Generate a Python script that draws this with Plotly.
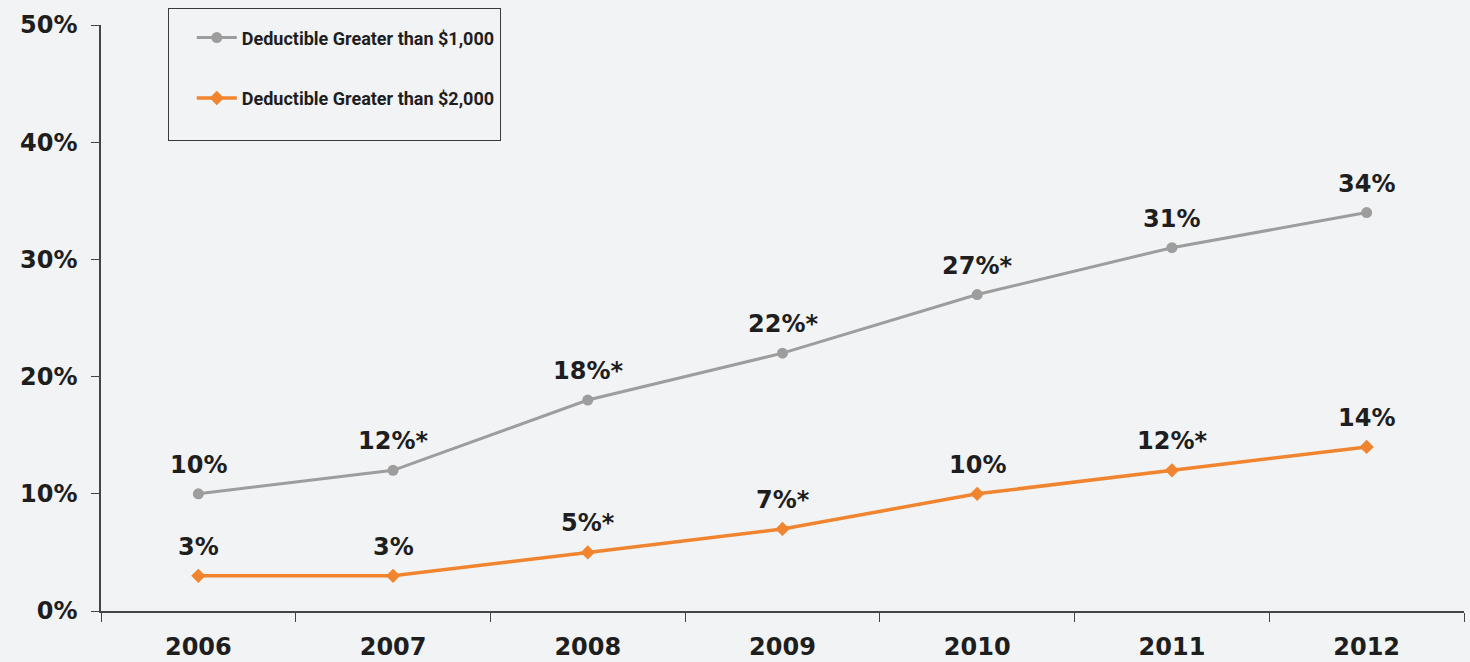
import plotly.graph_objects as go

years = ["2006", "2007", "2008", "2009", "2010", "2011", "2012"]
over_1000 = [10, 12, 18, 22, 27, 31, 34]
over_2000 = [3, 3, 5, 7, 10, 12, 14]
labels_1000 = ["10%", "12%*", "18%*", "22%*", "27%*", "31%", "34%"]
labels_2000 = ["3%", "3%", "5%*", "7%*", "10%", "12%*", "14%"]
y_ticks = [0, 10, 20, 30, 40, 50]

GRAY = "#9d9d9d"
ORANGE = "#f0842f"
BG = "#f2f3f5"
TXT = "#1e1e1e"
AXIS = "#444444"
FONT = "DejaVu Sans"

fig = go.Figure()
fig.add_trace(go.Scatter(
    x=years, y=over_1000, mode="lines+markers",
    name="<b>Deductible Greater than $1,000</b>", legendgroup="a",
    line=dict(color=GRAY, width=3),
    marker=dict(symbol="circle", size=11, color=GRAY),
))
fig.add_trace(go.Scatter(
    x=years, y=over_2000, mode="lines+markers",
    # trailing blank line gives the legend box some bottom padding
    name="<b>Deductible Greater than $2,000</b><br> ", legendgroup="b",
    line=dict(color=ORANGE, width=3.5),
    marker=dict(symbol="diamond", size=11, color=ORANGE),
))

# value labels above each point (x given as category index)
for series, labels in ((over_1000, labels_1000), (over_2000, labels_2000)):
    for i, (y, t) in enumerate(zip(series, labels)):
        fig.add_annotation(
            x=i, y=y, text=f"<b>{t}</b>", showarrow=False, yshift=29,
            font=dict(family=FONT, size=24, color=TXT),
        )

fig.update_layout(
    width=1470, height=662,
    margin=dict(l=101, r=6, t=25, b=51),
    paper_bgcolor=BG, plot_bgcolor=BG,
    showlegend=True,
    legend=dict(
        x=0.049, y=1.029, xanchor="left", yanchor="top",
        bgcolor=BG, bordercolor="#3a3a3a", borderwidth=1,
        font=dict(family="Roboto", size=18, color=TXT),
        title=dict(text=" ", font=dict(size=8)),
        tracegroupgap=34, traceorder="grouped",
        itemwidth=40, indentation=23, valign="top",
    ),
    xaxis=dict(
        type="category", range=[-0.5, 6.5], automargin=False,
        tickson="boundaries", ticks="outside", ticklen=9,
        tickcolor=AXIS, showline=True, linecolor=AXIS, linewidth=1.5,
        showgrid=False, zeroline=False,
        tickvals=years, ticktext=[f"<b>{y}</b>" for y in years],
        tickfont=dict(family=FONT, size=24, color=TXT),
        ticklabelstandoff=13,
    ),
    yaxis=dict(
        range=[0, 50], tickvals=y_ticks, automargin=False,
        ticktext=[f"<b>{v}%</b>" for v in y_ticks],
        ticks="outside", ticklen=8, tickcolor=AXIS,
        showline=True, linecolor=AXIS, linewidth=1.5,
        showgrid=False, zeroline=False,
        tickfont=dict(family=FONT, size=24, color=TXT),
        ticklabelstandoff=9,
    ),
)

fig.write_html("out.html")
